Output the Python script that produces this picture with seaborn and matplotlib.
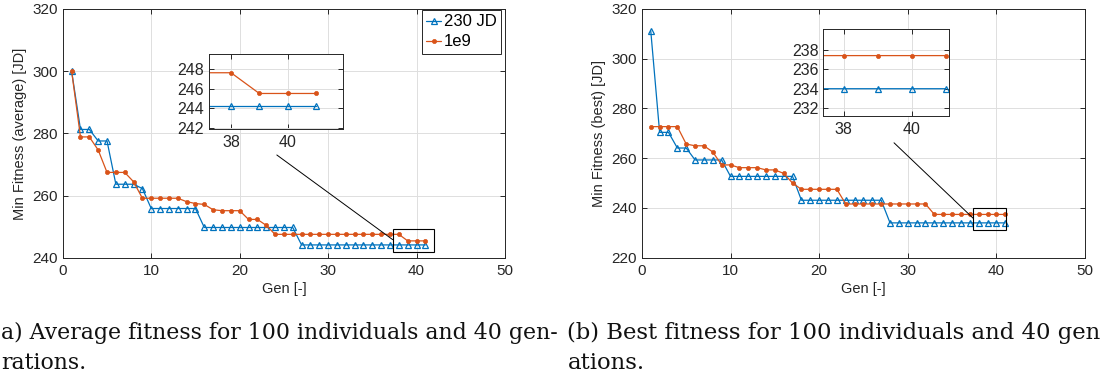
import numpy as np
import pandas as pd
import matplotlib
matplotlib.use("Agg")
import matplotlib.pyplot as plt
from matplotlib.patches import Rectangle
import seaborn as sns

# ---------------- data ----------------
gens = list(range(1, 42))
avg_230 = ([300.0, 281.3, 281.3, 277.6, 277.6, 263.7, 263.7, 263.7, 262.3]
           + [255.9] * 6 + [249.8] * 11 + [244.2] * 15)
avg_1e9 = ([300.0, 278.9, 278.9, 274.7, 267.5, 267.5, 267.5, 264.5, 259.2,
            259.2, 259.2, 259.2, 259.2, 258.1, 257.5, 257.2, 255.5, 255.2,
            255.2, 255.2, 252.4, 252.4, 250.5] + [247.6] * 15 + [245.5] * 3)
best_230 = ([311.2, 270.4, 270.4, 264.1, 264.1] + [259.3] * 4 + [252.7] * 8
            + [243.1] * 10 + [234.0] * 14)
best_1e9 = ([272.7, 272.7, 272.7, 272.7, 265.7, 265.0, 265.0, 262.5, 257.3,
             257.3, 256.2, 256.2, 256.2, 255.3, 255.3, 253.9, 250.0]
            + [247.5] * 5 + [241.6] * 10 + [237.4] * 9)
series_names = ["230 JD", "1e9"]
caption_a = ["a) Average fitness for 100 individuals and 40 gen-", "rations."]
caption_b = ["(b) Best fitness for 100 individuals and 40 gen", "ations."]

# ---------------- style ----------------
sns.set_style("ticks")
plt.rcParams["font.family"] = ["Liberation Sans", "DejaVu Sans"]

BLUE = "#0072BD"
ORANGE = "#D95319"
AX_C = "#262626"
GRID_C = "#dedede"

W, H = 1106, 383
fig = plt.figure(figsize=(W / 100, H / 100), dpi=100)


def px_axes(x0, y0, x1, y1):
    return fig.add_axes([x0 / W, 1 - y1 / H, (x1 - x0) / W, (y1 - y0) / H])


def matlab_style(ax, xt, yt, labelsize=11):
    ax.set_xticks(xt)
    ax.set_yticks(yt)
    ax.grid(True, color=GRID_C, lw=0.7)
    ax.set_axisbelow(True)
    for s in ax.spines.values():
        s.set_visible(True)
        s.set_color(AX_C)
        s.set_linewidth(0.7)
    ax.tick_params(direction="in", top=True, right=True, length=3.5,
                   width=0.7, colors=AX_C, labelsize=labelsize, pad=3.5)
    ax.tick_params(axis="x", pad=4.5)


def draw_series(ax, ya, yb, legend=False):
    sns.lineplot(x=gens, y=ya, ax=ax, color=BLUE, marker="^", markersize=5,
                 markerfacecolor="none", markeredgecolor=BLUE,
                 markeredgewidth=0.9, linewidth=0.9, errorbar=None,
                 label=series_names[0] if legend else None, legend=legend)
    sns.lineplot(x=gens, y=yb, ax=ax, color=ORANGE, marker="o", markersize=3,
                 markerfacecolor=ORANGE, markeredgecolor=ORANGE,
                 markeredgewidth=0.5, linewidth=0.9, errorbar=None,
                 label=series_names[1] if legend else None, legend=legend)


# ---------------- left panel ----------------
ax1 = px_axes(62.8, 9, 505, 258)
draw_series(ax1, avg_230, avg_1e9, legend=True)
ax1.set_xlim(0, 50)
ax1.set_ylim(240, 320)
matlab_style(ax1, range(0, 51, 10), range(240, 321, 20))
ax1.set_xlabel("Gen [-]", fontsize=10.5, color=AX_C, labelpad=3)
ax1.set_ylabel("Min Fitness (average) [JD]", fontsize=10.5, color=AX_C, labelpad=4)
leg = ax1.legend(loc="upper right", bbox_to_anchor=(0.99, 0.995), fontsize=12,
                 frameon=True, fancybox=False, edgecolor=AX_C, framealpha=1,
                 handlelength=0.9, handletextpad=0.15, borderpad=0.25,
                 labelspacing=0.3, borderaxespad=0)
leg.get_frame().set_linewidth(0.7)
for t in leg.get_texts():
    t.set_color("black")

zoom_a = (37.3, 41.95, 241.9, 249.3)
ax1.add_patch(Rectangle((zoom_a[0], zoom_a[2]), zoom_a[1] - zoom_a[0],
                        zoom_a[3] - zoom_a[2], fill=False, ec="black", lw=0.8, zorder=5))
ax1.plot([24.2, zoom_a[0]], [273.1, 245.9], color="black", lw=0.7, zorder=5)

in1 = px_axes(209, 54, 342.7, 129)
draw_series(in1, avg_230, avg_1e9)
in1.set_xlim(zoom_a[0] - 0.08, zoom_a[1])
in1.set_ylim(zoom_a[2], zoom_a[3] + 0.2)
matlab_style(in1, [38, 40], [242, 244, 246, 248], labelsize=11.5)
in1.set_xlabel("")
in1.set_ylabel("")

# ---------------- right panel ----------------
ax2 = px_axes(641.9, 9, 1085, 257.7)
draw_series(ax2, best_230, best_1e9)
ax2.set_xlim(0, 50)
ax2.set_ylim(220, 320)
matlab_style(ax2, range(0, 51, 10), range(220, 321, 20))
ax2.set_xlabel("Gen [-]", fontsize=10.5, color=AX_C, labelpad=3)
ax2.set_ylabel("Min Fitness (best) [JD]", fontsize=10.5, color=AX_C, labelpad=4)

zoom_b = (37.4, 41.1, 231.2, 240.1)
ax2.add_patch(Rectangle((zoom_b[0], zoom_b[2]), zoom_b[1] - zoom_b[0],
                        zoom_b[3] - zoom_b[2], fill=False, ec="black", lw=0.8, zorder=5))
ax2.plot([28.45, zoom_b[0]], [266.2, 235.8], color="black", lw=0.7, zorder=5)

in2 = px_axes(823.3, 29.3, 949.3, 116)
draw_series(in2, best_230, best_1e9)
in2.set_xlim(zoom_b[0], zoom_b[1])
in2.set_ylim(zoom_b[2], zoom_b[3])
matlab_style(in2, [38, 40], [232, 234, 236, 238], labelsize=11.5)
in2.set_xlabel("")
in2.set_ylabel("")

# ---------------- captions ----------------
SERIF = ["DejaVu Serif"]


def fitted_text(x_px, y_px, s, target_w=None, size=13.5):
    t = fig.text(x_px / W, 1 - y_px / H, s, family=SERIF, fontsize=size,
                 va="baseline", ha="left", color="#111111")
    if target_w is not None:
        fig.canvas.draw()
        w = t.get_window_extent().width
        t.set_fontsize(size * target_w / w)
    return t


ta = fitted_text(1, 339, caption_a[0], target_w=555)
tb = fitted_text(567, 339, caption_b[0], target_w=533)
fitted_text(1, 369, caption_a[1], size=ta.get_fontsize())
fitted_text(568, 369, caption_b[1], size=tb.get_fontsize())

fig.savefig("out.png", dpi=100)
